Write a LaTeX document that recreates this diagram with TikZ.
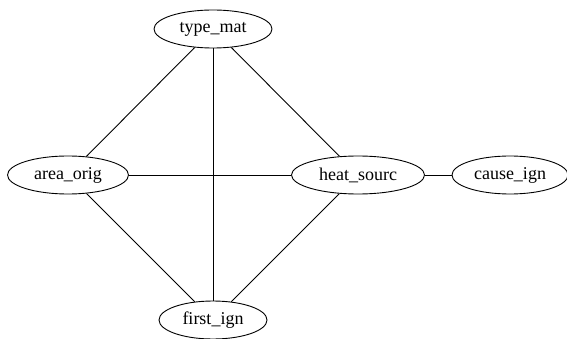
\documentclass[tikz,border=0pt]{standalone}
\usepackage{fontspec}
\setmainfont{Liberation Serif}
\usetikzlibrary{shapes.geometric}
\tikzset{
  var/.style={ellipse,draw,line width=0.9pt,minimum height=38pt,inner sep=0pt,font=\fontsize{18}{21}\selectfont},
  link/.style={line width=0.9pt}
}

\begin{document}
\begin{tikzpicture}[x=1pt,y=-1pt]
\useasboundingbox (0,0) rectangle (567,339);
\begin{scope}
\clip (0,0) rectangle (567,339);
% Variables
\node[var,minimum width=118pt] (type) at (213,29) {type\_mat};
\node[var,minimum width=121pt] (area) at (68,175) {area\_orig};
\node[var,minimum width=133pt] (heat) at (358,175) {heat\_sourc};
\node[var,minimum width=116pt] (cause) at (510,175) {cause\_ign};
\node[var,minimum width=108pt] (first) at (213,320) {first\_ign};

% Dependencies
\foreach \a/\b in {type/area, type/heat, type/first, area/heat, area/first, heat/first, heat/cause} {
  \draw[link] (\a) -- (\b);
}
\end{scope}
\end{tikzpicture}
\end{document}
